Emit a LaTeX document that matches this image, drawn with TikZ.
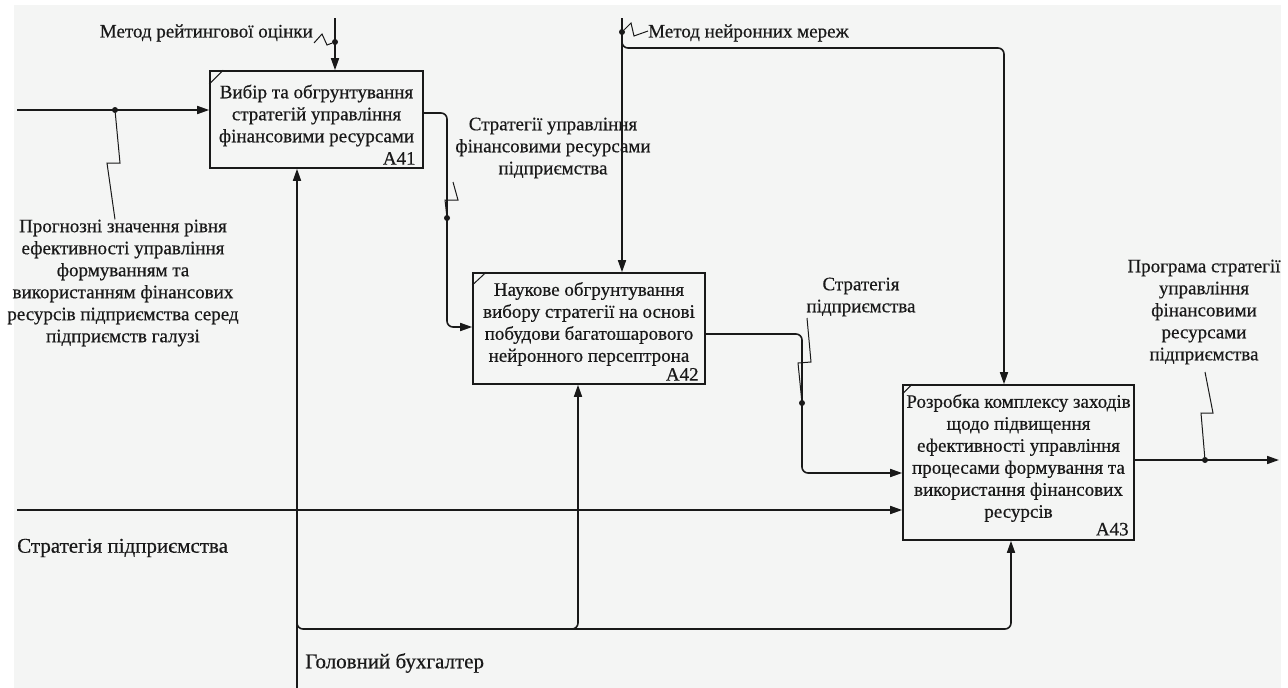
\documentclass[tikz,border=0pt]{standalone}
\usepackage{fontspec}
\setmainfont{Liberation Serif}[FakeBold=0.5]
\usetikzlibrary{arrows.meta}
\definecolor{panel}{RGB}{244,245,244}
\definecolor{ink}{RGB}{25,25,25}
\begin{document}
\begin{tikzpicture}[x=1pt,y=-1pt,
  line/.style={draw=ink, line width=1.6pt},
  arr/.style={line, -{Triangle[length=12pt,width=8pt]}},
  box/.style={draw=ink, line width=1.6pt, rectangle, inner sep=0pt},
  txt/.style={text=ink, font=\fontsize{19}{22}\selectfont, align=center, inner sep=0pt},
  big/.style={font=\fontsize{21}{24}\selectfont},
  dot/.style={circle, fill=ink, inner sep=0pt, minimum size=6pt},
  squig/.style={draw=ink, line width=1pt},
  rc/.style={rounded corners=6pt}]
\fill[white] (0,0) rectangle (1288,688);
\fill[panel] (14,5) rectangle (1281,688);
\useasboundingbox (0,0) rectangle (1288,688);

% boxes
\node[box, minimum width=213pt, minimum height=97pt] (a41) at (316.5,119.5) {};
\node[box, minimum width=232pt, minimum height=111pt] (a42) at (589,328.5) {};
\node[box, minimum width=231pt, minimum height=155pt] (a43) at (1018.5,462.5) {};

\node[txt] (t41) at (316.5,115.5) {Вибір та обгрунтування\\стратегій управління\\фінансовими ресурсами};
\node[txt] (t42) at (589,324) {Наукове обгрунтування\\вибору стратегії на основі\\побудови багатошарового\\нейронного персептрона};
\node[txt] (t43) at (1018.5,458) {Розробка комплексу заходів\\щодо підвищення\\ефективності управління\\процесами формування та\\використання фінансових\\ресурсів};

\node[txt, anchor=south east] (n41) at ([xshift=-8pt,yshift=4pt]a41.south east) {A41};
\node[txt, anchor=south east] (n42) at ([xshift=-7pt,yshift=4pt]a42.south east) {A42};
\node[txt, anchor=south east] (n43) at ([xshift=-6pt,yshift=5pt]a43.south east) {A43};

\draw[squig] ([yshift=-14pt]a41.north west) -- ([xshift=14pt]a41.north west);
\draw[squig] ([yshift=-13pt]a42.north west) -- ([xshift=14pt]a42.north west);
\draw[squig] ([yshift=-10pt]a43.north west) -- ([xshift=10pt]a43.north west);

% input to A41
\coordinate (in41) at (17,110);
\draw[arr] (in41) -- (in41 -| a41.west);
\node[dot] (d1) at (115,110) {};
\node[txt] (lab1) at (123,283) {Прогнозні значення рівня\\ефективності управління\\формуванням та\\використанням фінансових\\ресурсів підприємства серед\\підприємств галузі};
\draw[squig] (d1) -- (120,163) -- (107,163) -- ([xshift=-8pt]lab1.north);

% control to A41
\coordinate (c41) at (335,18);
\draw[arr] (c41) -- (c41 |- a41.north);
\node[dot] (d2) at (335,42) {};
\node[txt, anchor=east] (lab2) at (313,33) {Метод рейтингової оцінки};
\coordinate (s2) at (314,43);
\draw[squig] (s2) -- (322,34) -- (327,45) -- (d2);

% A41 -> A42
\coordinate (k0) at (447,113);
\coordinate (k0b) at (447,327);
\draw[arr, rc] (a41.east |- k0) -- (k0) -- (k0b) -- (k0b -| a42.west);
\node[dot] (d3) at (447,218) {};
\node[txt] (lab3) at (553,148) {Стратегії управління\\фінансовими ресурсами\\підприємства};
\draw[squig] (d3) -- (445,200) -- (458,200) -- (453,182);

% control to A42 and A43
\coordinate (c42) at (622,18);
\draw[arr] (c42) -- (c42 |- a42.north);
\coordinate (k1a) at (622,36);
\coordinate (k1) at (1004,48);
\draw[arr, rc] (k1a) -- (622,48) -- (k1) -- (k1 |- a43.north);
\node[dot] (d4) at (622,32) {};
\node[txt, anchor=west] (lab4) at (648,33) {Метод нейронних мереж};
\draw[squig] (d4) -- (631,23) -- (634,36) -- ([yshift=2pt]lab4.west);

% A42 -> A43
\coordinate (k2) at (802,334);
\coordinate (k2b) at (802,473);
\draw[arr, rc] (a42.east |- k2) -- (k2) -- (k2b) -- (k2b -| a43.west);
\node[dot] (d5) at (802,403) {};
\node[txt] (lab5) at (861,297) {Стратегія\\підприємства};
\draw[squig] (d5) -- (798,363) -- (811,362) -- (807,318);

% long input
\coordinate (in43) at (17,510);
\draw[arr] (in43) -- (in43 -| a43.west);
\node[txt, big, anchor=west] (lab6) at (17,548) {Стратегія підприємства};

% output
\coordinate (out) at (1279,460);
\draw[arr] (a43.east |- out) -- (out);
\node[dot] (d6) at (1205,460) {};
\node[txt] (lab7) at (1204,312) {Програма стратегії\\управління\\фінансовими\\ресурсами\\підприємства};
\draw[squig] (d6) -- (1201,413) -- (1213,413) -- (1205,372);

% mechanism
\coordinate (m0) at (297,688);
\draw[arr] (m0) -- (m0 |- a41.south);
\coordinate (m1) at (1011,629);
\draw[arr, rc] (297,618) -- (297,629) -- (m1) -- (m1 |- a43.south);
\coordinate (m2) at (578,629);
\draw[arr, rc] (560,629) -- (m2) -- (m2 |- a42.south);
\node[txt, big, anchor=west] (lab8) at (305,663) {Головний бухгалтер};

\fill[white] (1281,0) rectangle (1288,688);
\end{tikzpicture}
\end{document}
